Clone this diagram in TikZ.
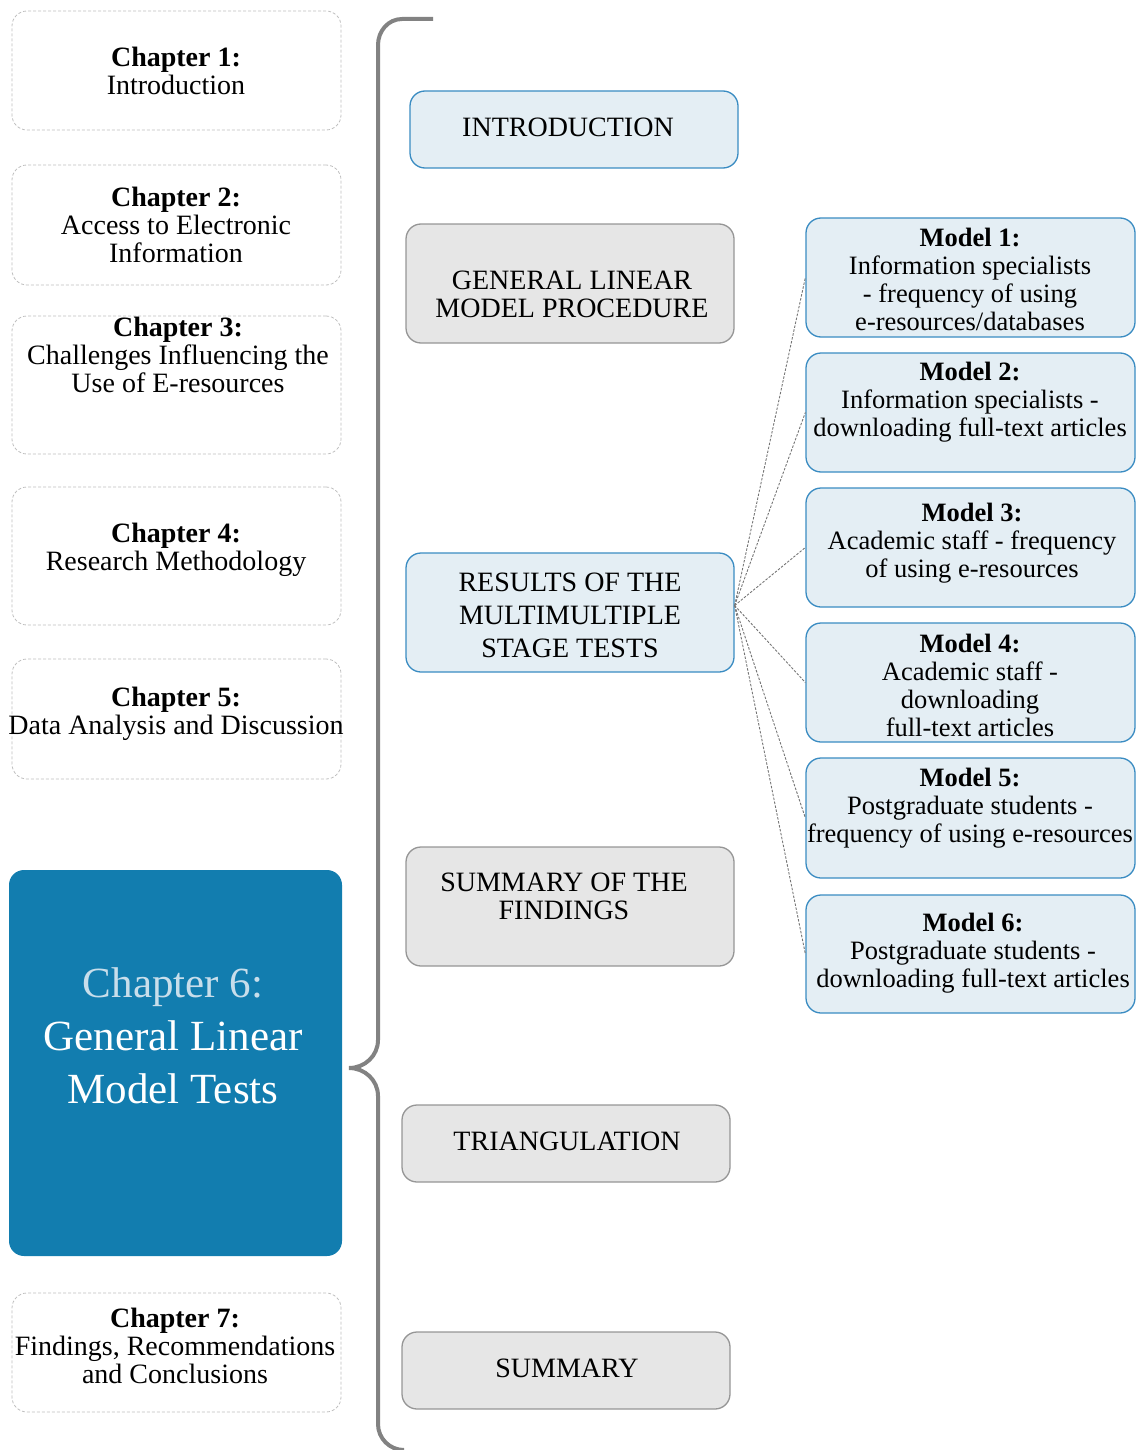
\documentclass[tikz,border=0pt]{standalone}
\usepackage{fontspec}
\setmainfont{Liberation Serif}
\definecolor{lightfill}{RGB}{228,238,244}
\definecolor{lightline}{RGB}{58,140,194}
\definecolor{greyfill}{RGB}{230,230,230}
\definecolor{greyline}{RGB}{150,150,150}
\definecolor{chapblue}{RGB}{18,125,175}
\definecolor{chaplight}{RGB}{200,222,235}
\definecolor{braceline}{RGB}{130,130,130}
\begin{document}
\begin{tikzpicture}[x=1pt,y=-1pt,
    chapbox/.style={draw=gray!50,dash pattern=on 3pt off 2pt,line width=0.8pt,rounded corners=15pt,minimum width=329pt,inner sep=0pt},
    bluebox/.style={draw=lightline,fill=lightfill,line width=1.3pt,rounded corners=15pt,minimum width=328pt,inner sep=0pt},
    greybox/.style={draw=greyline,fill=greyfill,line width=1.3pt,rounded corners=15pt,minimum width=328pt,inner sep=0pt},
    modelbox/.style={bluebox,minimum width=329pt,minimum height=119pt},
    txt/.style={align=center,inner sep=0pt,font=\fontsize{28}{28}\selectfont},
    modeltxt/.style={txt,font=\fontsize{26.5}{28}\selectfont},
    link/.style={draw=braceline!90!black,line width=0.9pt,dash pattern=on 2.5pt off 1.5pt}]
    \useasboundingbox (0,0) rectangle (1139,1450);

    % Kapitel links
    \node[chapbox,minimum height=119pt] (c1) at (176.5,70.5) {};
    \node[txt] (t1) at (176,71) {\textbf{Chapter 1:}\\Introduction};
    \node[chapbox,minimum height=120pt] (c2) at (176.5,225) {};
    \node[txt] (t2) at (176,225) {\textbf{Chapter 2:}\\Access to Electronic\\Information};
    \node[chapbox,minimum height=138pt] (c3) at (176.5,385) {};
    \node[txt] (t3) at (178,355) {\textbf{Chapter 3:}\\Challenges Influencing the\\Use of E-resources};
    \node[chapbox,minimum height=138pt] (c4) at (176.5,556) {};
    \node[txt] (t4) at (176,550) {\textbf{Chapter 4:}\\Research Methodology};
    \node[chapbox,minimum height=120pt] (c5) at (176.5,719) {};
    \node[txt] (t5) at (176,714) {\textbf{Chapter 5:}\\Data Analysis and Discussion};
    \node[fill=chapblue,rounded corners=15pt,minimum width=333pt,minimum height=386pt,inner sep=0pt] (c6) at (175.5,1063) {};
    \node[align=center,inner sep=0pt,font=\fontsize{43}{53}\selectfont,text=white] (t6) at (173,1036)
        {\textcolor{chaplight}{Chapter 6:}\\General Linear\\Model Tests};
    \node[chapbox,minimum height=119pt] (c7) at (176.5,1352.5) {};
    \node[txt] (t7) at (175,1346) {\textbf{Chapter 7:}\\Findings, Recommendations\\and Conclusions};

    % Klammer
    \draw[braceline,line width=4pt] (433,19) -- (402,19) to[out=180,in=90] (378,45)
        -- (378,1040) to[out=-90,in=0] (349,1068) to[out=0,in=90] (378,1096)
        -- (378,1424) to[out=-90,in=180] (404,1450);

    % Abschnitte in der Mitte
    \node[bluebox,minimum height=77pt] (intro) at (574,129.5) {};
    \node[txt] (ti) at (568,127) {INTRODUCTION};
    \node[greybox,minimum height=119pt] (glm) at (570,283.5) {};
    \node[txt] (tg) at (572,294) {GENERAL LINEAR\\MODEL PROCEDURE};
    \node[bluebox,minimum height=119pt] (res) at (570,612.5) {};
    \node[txt,font=\fontsize{28}{33}\selectfont] (tr) at (570,615) {RESULTS OF THE\\MULTIMULTIPLE\\STAGE TESTS};
    \node[greybox,minimum height=119pt] (sof) at (570,906.5) {};
    \node[txt] (ts) at (564,896) {SUMMARY OF THE\\FINDINGS};
    \node[greybox,minimum height=77pt] (tri) at (566,1143.5) {};
    \node[txt] (tt) at (567,1141) {TRIANGULATION};
    \node[greybox,minimum height=77pt] (sum) at (566,1370.5) {};
    \node[txt] (tu) at (567,1368) {SUMMARY};

    % Modelle rechts
    \node[modelbox] (m1) at (970.5,277.5) {};
    \node[modeltxt] at (970,279) {\textbf{Model 1:}\\Information specialists\\- frequency of using\\e-resources/databases};
    \node[modelbox] (m2) at (970.5,412.5) {};
    \node[modeltxt] at (970,402) {\textbf{Model 2:}\\Information specialists -\\downloading full-text articles};
    \node[modelbox] (m3) at (970.5,547.5) {};
    \node[modeltxt] at (972,543) {\textbf{Model 3:}\\Academic staff - frequency\\of using e-resources};
    \node[modelbox] (m4) at (970.5,682.5) {};
    \node[modeltxt] at (970,685) {\textbf{Model 4:}\\Academic staff -\\downloading\\full-text articles};
    \node[modelbox,minimum height=120pt] (m5) at (970.5,818) {};
    \node[modeltxt] at (970,808) {\textbf{Model 5:}\\Postgraduate students -\\frequency of using e-resources};
    \node[modelbox,minimum height=118pt] (m6) at (970.5,954) {};
    \node[modeltxt] at (973,953) {\textbf{Model 6:}\\Postgraduate students -\\downloading full-text articles};

    % gepunktete Verbindungen
    \coordinate (hub) at ([yshift=7pt]res.east);
    \foreach \m in {m1,m2,m3,m4,m5,m6}
        \draw[link] (hub) -- (\m.west);
\end{tikzpicture}
\end{document}
